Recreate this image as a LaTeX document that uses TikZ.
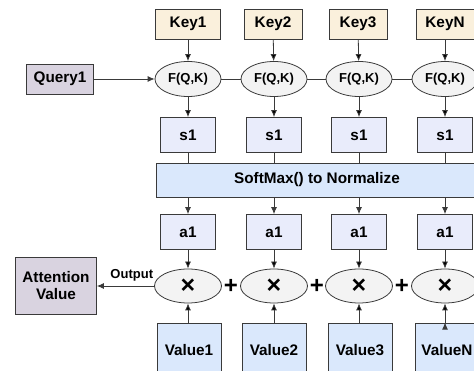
\documentclass[tikz,border=0pt]{standalone}
\usepackage{fontspec}
\setmainfont{Liberation Sans}
\usetikzlibrary{arrows.meta,shapes.geometric}

\definecolor{keyfill}{HTML}{FAF0DC}
\definecolor{queryfill}{HTML}{D9D3E0}
\definecolor{scorefill}{HTML}{E9ECFB}
\definecolor{valuefill}{HTML}{DAE8FC}
\definecolor{opfill}{HTML}{F3F3F3}
\definecolor{linegray}{HTML}{3A3A3A}

\begin{document}
\begin{tikzpicture}[x=1pt, y=-1pt, >={Latex[length=7pt,width=6pt]}, line width=0.8pt]
\tikzstyle{box_style} = [rectangle, draw=linegray, inner sep=0pt, minimum height=30pt, font=\fontsize{15.3}{17}\selectfont\bfseries]
\tikzstyle{key_style} = [box_style, fill=keyfill, minimum width=58pt]
\tikzstyle{score_style} = [box_style, fill=scorefill, minimum width=55pt, minimum height=35pt]
\tikzstyle{value_style} = [box_style, fill=valuefill, minimum width=64pt, minimum height=54pt]
\tikzstyle{fn_style} = [ellipse, draw=linegray, fill=opfill, inner sep=0pt, minimum width=66pt, minimum height=35pt, font=\fontsize{13}{15}\selectfont\bfseries]
\tikzstyle{mul_style} = [fn_style, minimum width=67pt, minimum height=34pt, font=\fontsize{25}{26}\selectfont\bfseries]
\tikzstyle{edge_style} = [draw=linegray, line width=0.8pt]
\tikzstyle{plus_style} = [inner sep=0pt, font=\fontsize{24}{25}\selectfont\bfseries]

\useasboundingbox (0,0) rectangle (474,371);
\clip (0,0) rectangle (474,371);

% keys and query
\node[key_style, minimum width=65pt] (k1) at (188,24) {Key1};
\node[key_style] (k2) at (273,24) {Key2};
\node[key_style] (k3) at (358,24) {Key3};
\node[key_style] (k4) at (445,24) {KeyN};
\node[box_style, fill=queryfill, minimum width=67pt] (q1) at (60,79) {Query1};

\node[fn_style] (f1) at (188,79) {F(Q,K)};
\node[fn_style] (f2) at (274,79) {F(Q,K)};
\node[fn_style] (f3) at (359,79) {F(Q,K)};
\node[fn_style] (f4) at (445,79) {F(Q,K)};

\node[score_style] (s1) at (188,135) {s1};
\node[score_style] (s2) at (274,135) {s1};
\node[score_style] (s3) at (359,135) {s1};
\node[score_style] (s4) at (445,135) {s1};

\node[box_style, fill=valuefill, minimum width=322pt, minimum height=34pt] (sm) at (317,180) {SoftMax() to Normalize};

\node[score_style] (a1) at (188,232) {a1};
\node[score_style] (a2) at (274,232) {a1};
\node[score_style] (a3) at (359,232) {a1};
\node[score_style] (a4) at (445,232) {a1};

\node[mul_style] (m1) at (188,286) {×};
\node[mul_style] (m2) at (274,286) {×};
\node[mul_style] (m3) at (359,286) {×};
\node[mul_style] (m4) at (445,286) {×};

\node[value_style] (v1) at (189,350) {Value1};
\node[value_style] (v2) at (274,350) {Value2};
\node[value_style] (v3) at (360,350) {Value3};
\node[value_style] (v4) at (447,350) {ValueN};

\node[box_style, fill=queryfill, minimum width=81pt, minimum height=57pt, align=center] (att) at (56,286) {Attention\\Value};

% plus signs
\node[plus_style] (p1) at (231,286) {+};
\node[plus_style] (p2) at (317,286) {+};
\node[plus_style] (p3) at (402,286) {+};

\draw[edge_style, ->]  (k1) edge (f1) (k2) edge (f2) (k3) edge (f3) (k4) edge (f4);
\draw[edge_style, ->]  (q1) -- (f1);
\draw[edge_style]  (f1) -- (f2) (f2) -- (f3) (f3) -- (f4);
\draw[edge_style, ->]  (f1) edge (s1) (f2) edge (s2) (f3) edge (s3) (f4) edge (s4);
\draw[edge_style]  (s1) -- (s1 |- sm.north) (s2) -- (s2 |- sm.north) (s3) -- (s3 |- sm.north) (s4) -- (s4 |- sm.north);
\draw[edge_style, ->]  (a1 |- sm.south) -- (a1);
\draw[edge_style, ->]  (a2 |- sm.south) -- (a2);
\draw[edge_style, ->]  (a3 |- sm.south) -- (a3);
\draw[edge_style, ->]  (a4 |- sm.south) -- (a4);
\draw[edge_style, ->]  (a1) edge (m1) (a2) edge (m2) (a3) edge (m3) (a4) edge (m4);
\draw[edge_style, ->]  (v1.north -| m1) edge (m1) (v2.north -| m2) edge (m2) (v3.north -| m3) edge (m3) (v4.north -| m4) edge (m4);
\draw[edge_style, ->]  (m1) -- node[above=1pt, pos=0.39, font=\fontsize{13}{15}\selectfont\bfseries]{Output} (att);
\end{tikzpicture}
\end{document}
